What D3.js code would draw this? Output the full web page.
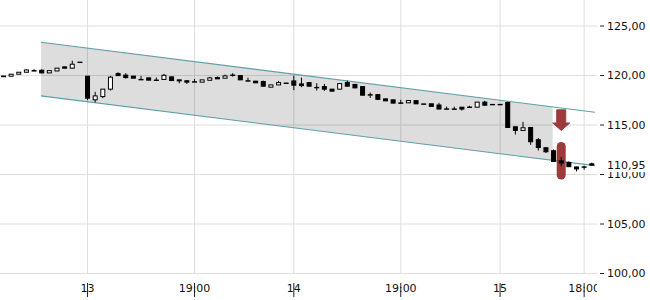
<!DOCTYPE html>
<html>
<head>
<meta charset="utf-8">
<script src="https://cdn.jsdelivr.net/npm/d3@7"></script>
<style>
  body { margin: 0; background: #fff; }
  svg { display: block; font-family: "DejaVu Sans", sans-serif; }
</style>
</head>
<body>
<svg id="chart" width="650" height="300"></svg>
<script>
// candle data (one candle per slot, index 0..77)
const opens = [119.95,119.93,120.13,120.33,120.50,120.53,120.26,120.46,120.87,120.74,121.35,
  119.93,117.54,117.87,118.62,120.19,120.04,119.94,119.60,119.76,119.54,119.60,119.86,119.56,119.47,
  119.37,119.33,119.52,119.79,119.73,120.05,119.99,119.47,119.43,119.39,118.82,119.05,119.24,
  119.45,119.15,119.28,118.80,118.88,118.62,118.62,119.28,119.10,118.88,118.06,118.07,117.64,117.54,
  117.23,117.24,117.46,117.13,117.14,117.02,116.63,116.62,116.80,116.81,116.80,117.31,117.08,
  117.08,117.27,114.82,114.45,114.75,113.51,112.70,112.40,111.39,111.22,110.76,110.77,111.08];
const highs = [119.95,120.15,120.35,120.63,120.65,120.63,120.50,120.76,120.90,121.50,121.37,
  119.95,118.35,118.62,119.96,120.33,120.23,119.95,119.96,119.78,119.80,120.16,119.90,119.57,119.48,
  119.65,119.57,119.86,119.91,120.09,120.23,120.00,119.78,119.44,119.49,119.06,119.45,119.25,
  119.99,119.79,119.30,119.22,119.15,118.65,119.20,119.49,119.12,118.90,118.28,118.10,117.65,117.55,
  117.54,117.50,117.48,117.14,117.15,117.24,116.87,116.85,116.82,116.94,117.32,117.44,117.09,
  117.09,117.37,114.85,115.32,114.78,113.68,112.72,112.53,111.76,111.32,110.78,110.89,111.20];
const lows = [119.87,119.90,120.12,120.32,120.44,120.22,120.25,120.45,120.72,120.73,121.33,
  117.50,117.28,117.71,118.48,119.95,119.69,119.73,119.58,119.52,119.52,119.59,119.48,119.22,119.15,
  119.35,119.33,119.50,119.65,119.72,119.89,119.55,119.45,119.26,118.90,118.80,119.04,119.22,
  118.52,118.82,118.90,118.48,118.45,118.40,118.60,118.90,118.72,118.00,117.74,117.55,117.44,117.20,
  117.20,117.23,117.12,117.10,116.88,116.60,116.60,116.60,116.46,116.79,116.78,116.98,117.06,
  117.06,114.72,114.04,114.43,113.00,112.43,112.17,111.30,110.82,110.77,110.31,110.48,110.90];
const closes = [119.88,120.13,120.33,120.56,120.45,120.26,120.49,120.74,120.74,121.14,121.33,
  117.71,117.94,118.62,119.83,119.99,119.79,119.73,119.58,119.53,119.52,120.02,119.49,119.46,119.33,
  119.35,119.56,119.76,119.66,119.96,120.03,119.56,119.45,119.26,118.92,119.05,119.28,119.22,
  119.02,118.98,118.92,118.78,118.62,118.42,119.18,118.92,118.75,118.01,118.04,117.59,117.44,117.21,
  117.21,117.47,117.14,117.10,116.88,116.61,116.60,116.60,116.61,116.79,117.31,117.00,117.06,
  117.06,114.75,114.45,114.72,113.31,112.73,112.30,111.32,111.16,110.79,110.56,110.75,110.95];

// axis ticks
const timeTickIdx = [11, 25, 38, 52, 65, 76];
const timeTickLabels = ["13", "19:00", "14", "19:00", "15", "18:00"];
const priceTicks = [100, 105, 110, 115, 120, 125];
const lastPrice = 110.95;

// trend channel: [index, price]
const channelTop = [[4.91, 123.36], [77.4, 116.29]];
const channelBottom = [[4.91, 117.94], [77.4, 110.89]];
const channelFillEnd = 71.88;

// annotations at candle 73
const arrowIdx = 73;
const arrowPrices = [116.53, 115.2, 114.45]; // top, head start, tip
const targetBar = [113.28, 109.5];

const W = 650, H = 300;
const plotRight = 597, plotBottom = 273.5;

const svg = d3.select("#chart");
const x = d3.scaleLinear().domain([0, 77]).range([3.5, 3.5 + 7.64 * 77]);
const y = d3.scaleLinear().domain([100, 125]).range([plotBottom, 26]);
const loc = d3.formatLocale({ decimal: ",", thousands: ".", grouping: [3], currency: ["", "€"] });
const fmt = loc.format(".2f");

// grid
svg.append("g").selectAll("line").data(priceTicks).join("line")
  .attr("x1", 0).attr("x2", plotRight)
  .attr("y1", d => y(d)).attr("y2", d => y(d))
  .attr("stroke", "#dedede").attr("stroke-width", 1);
svg.append("g").selectAll("line").data(timeTickIdx).join("line")
  .attr("x1", d => x(d)).attr("x2", d => x(d))
  .attr("y1", 0).attr("y2", plotBottom)
  .attr("stroke", "#dedede").attr("stroke-width", 1);

// channel fill
const lerp = (seg, i) => seg[0][1] + (seg[1][1] - seg[0][1]) * (i - seg[0][0]) / (seg[1][0] - seg[0][0]);
const fillPts = [
  [channelTop[0][0], channelTop[0][1]],
  [channelFillEnd, lerp(channelTop, channelFillEnd)],
  [channelFillEnd, lerp(channelBottom, channelFillEnd)],
  [channelBottom[0][0], channelBottom[0][1]]
];
svg.append("path")
  .attr("d", d3.line().x(d => x(d[0])).y(d => y(d[1]))(fillPts) + "Z")
  .attr("fill", "#000").attr("fill-opacity", 0.135);

[channelTop, channelBottom].forEach(seg => {
  svg.append("line")
    .attr("x1", x(seg[0][0])).attr("y1", y(seg[0][1]))
    .attr("x2", x(seg[1][0])).attr("y2", y(seg[1][1]))
    .attr("stroke", "#5e9fa6").attr("stroke-width", 1.2);
});

// annotations
const ax = x(arrowIdx);
svg.append("path")
  .attr("d", `M${ax - 4.5},${y(arrowPrices[0])} H${ax + 4.5} V${y(arrowPrices[1])} H${ax + 8.5}
    L${ax},${y(arrowPrices[2])} L${ax - 8.5},${y(arrowPrices[1])} H${ax - 4.5} Z`)
  .attr("fill", "#9b3b3b").attr("stroke", "#9b3b3b").attr("stroke-linejoin", "round");
svg.append("rect")
  .attr("x", ax - 4.5).attr("width", 9)
  .attr("y", y(targetBar[0])).attr("height", y(targetBar[1]) - y(targetBar[0]))
  .attr("rx", 4.5).attr("fill", "#9b3b3b");

// candles
const candles = d3.range(opens.length).map(i => ({
  i, o: opens[i], h: highs[i], l: lows[i], c: closes[i]
}));
const cg = svg.append("g");
cg.selectAll("line").data(candles).join("line")
  .attr("x1", d => x(d.i)).attr("x2", d => x(d.i))
  .attr("y1", d => y(d.h)).attr("y2", d => y(d.l))
  .attr("stroke", "#000").attr("stroke-width", 1);
cg.selectAll("rect").data(candles).join("rect")
  .attr("x", d => x(d.i) - 2).attr("width", 4)
  .attr("y", d => y(Math.max(d.o, d.c)))
  .attr("height", d => Math.max(0.4, Math.abs(y(d.o) - y(d.c))))
  .attr("fill", d => d.c > d.o ? "#fff" : "#000")
  .attr("stroke", "#000").attr("stroke-width", 1);

// right price axis
const ya = svg.append("g");
ya.selectAll("line").data(priceTicks).join("line")
  .attr("x1", 600).attr("x2", 604)
  .attr("y1", d => y(d)).attr("y2", d => y(d))
  .attr("stroke", "#222");
ya.selectAll("text").data(priceTicks).join("text")
  .attr("x", 607).attr("y", d => y(d)).attr("dy", "0.36em")
  .attr("font-size", 11).attr("fill", "#111")
  .text(d => fmt(d));
ya.append("rect")
  .attr("x", 605).attr("width", 45)
  .attr("y", y(lastPrice) - 7).attr("height", 14)
  .attr("fill", "#fff");
ya.append("text")
  .attr("x", 607).attr("y", y(lastPrice)).attr("dy", "0.36em")
  .attr("font-size", 11).attr("fill", "#111")
  .text(fmt(lastPrice));

// bottom time axis
svg.append("clipPath").attr("id", "xclip")
  .append("rect").attr("x", 0).attr("y", 0).attr("width", plotRight).attr("height", H);
const xa = svg.append("g").attr("clip-path", "url(#xclip)");
xa.selectAll("line").data(timeTickIdx).join("line")
  .attr("x1", d => x(d)).attr("x2", d => x(d))
  .attr("y1", 283).attr("y2", 297)
  .attr("stroke", "#222");
xa.selectAll("text").data(timeTickIdx).join("text")
  .attr("x", d => x(d)).attr("y", 292)
  .attr("text-anchor", "middle")
  .attr("font-size", 11).attr("fill", "#111")
  .text((d, k) => timeTickLabels[k]);
</script>
</body>
</html>
